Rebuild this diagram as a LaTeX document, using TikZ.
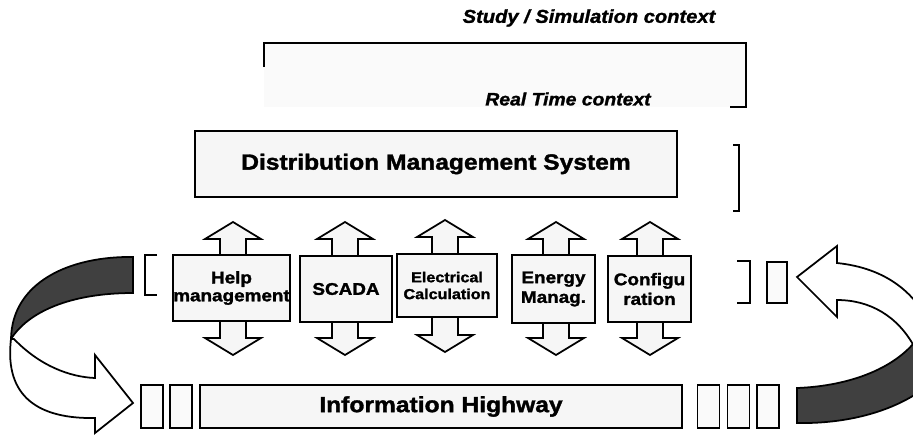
\documentclass[tikz,border=0pt]{standalone}
\usepackage{fontspec}
\setmainfont{Liberation Sans}[BoldFeatures={FakeStretch=1.12,FakeBold=1.6},BoldItalicFeatures={FakeStretch=1.08,FakeBold=1.4}]
\usetikzlibrary{positioning}
\tikzset{ctx/.style={font=\fontsize{10.6}{12}\selectfont\bfseries\itshape}}
\tikzset{bigbox/.style={draw,fill=gray!7,inner sep=0pt,font=\fontsize{12.5}{14}\selectfont\bfseries}}
\tikzset{modbox/.style={draw,fill=gray!7,inner sep=0pt,align=center,font=\fontsize{9.6}{11.2}\selectfont\bfseries}}
\tikzset{slot/.style={draw,fill=gray!4,inner sep=0pt,minimum width=0.44cm,minimum height=0.86cm}}
\tikzset{back/.style={fill=black!75,draw=black}}

\begin{document}
\begin{tikzpicture}[x=0.02cm,y=-0.02cm,line width=1pt]
    \useasboundingbox (0,0) rectangle (913,434);
    % contexts
    \fill[gray!4] (264,43) rectangle (746,107);
    \draw (264,67)--(264,43)--(746,43)--(746,107)--(730,107);
    \node[ctx] (study) at (589,18) {Study / Simulation context};
    \node[ctx,font=\fontsize{10.2}{12}\selectfont\bfseries\itshape] (rt) at (568,99) {Real Time context};
    \node[bigbox,minimum width=9.64cm,minimum height=1.32cm] (dms) at (436,164) {Distribution Management System};
    \draw (733,145)--(739,145)--(739,211)--(733,211);
    % double arrows behind the modules
    \foreach \cx/\yt/\yb in {233/222/355,345/222/355,445/220/352,556/222/355,650/222/355}
      \draw[fill=gray!7] (\cx,\yt)--(\cx+28,\yt+17)--(\cx+13,\yt+17)--(\cx+13,\yb-17)--(\cx+28,\yb-17)
        --(\cx,\yb)--(\cx-28,\yb-17)--(\cx-13,\yb-17)--(\cx-13,\yt+17)--(\cx-28,\yt+17)--cycle;
    \node[modbox,minimum width=2.3cm,minimum height=1.32cm] (help) at (231.5,288) {Help\\[-1pt]management};
    \node[modbox,minimum width=1.84cm,minimum height=1.32cm] (scada) at (346,289) {SCADA};
    \node[modbox,minimum width=2.0cm,minimum height=1.26cm,font=\fontsize{8.2}{9.6}\selectfont\bfseries] (elec) at (447,285.5) {Electrical\\Calculation};
    \node[modbox,minimum width=1.66cm,minimum height=1.36cm] (energy) at (553.5,289) {Energy\\Manag.};
    \node[modbox,minimum width=1.66cm,minimum height=1.32cm] (config) at (649.5,289) {Configu\\ration};
    \draw (157,255)--(145,255)--(145,295)--(157,295);
    \draw (737,261)--(750,261)--(750,303)--(737,303);
    \node[slot,minimum width=0.4cm,minimum height=0.82cm] (r0) at (777,282.5) {};
    % bus
    \node[slot] (l1) at (152,406.5) {};
    \node[slot] (l2) at (181,406.5) {};
    \node[bigbox,minimum width=9.64cm,minimum height=0.86cm] (ih) at (441,406.5) {Information Highway};
    \node[slot] (r1) at (708.5,406.5) {};
    \node[slot] (r2) at (738.5,406.5) {};
    \node[slot] (r3) at (768,406.5) {};
    % curved arrows
    \begin{scope}
      \clip (0,0) rectangle (913,434);
      \draw[back] (133,257) .. controls (70,256) and (12,282) .. (11,339)
        .. controls (28,312) and (70,293) .. (133,293) -- cycle;
      \draw[fill=white] (14,339) .. controls (40,366) and (70,377) .. (95,378) -- (95,355) -- (133,403)
        -- (95,433) -- (95,418) .. controls (40,419) and (4,398) .. (11,339) -- cycle;
      \draw[fill=white] (837,263) .. controls (885,268) and (918,292) .. (935,335) -- (915,348)
        .. controls (898,316) and (870,300) .. (837,300) -- (837,317) -- (797,277) -- (837,246) -- cycle;
      \draw[back] (797,388) .. controls (850,386) and (898,368) .. (920,335) -- (940,375)
        .. controls (905,410) and (850,424) .. (797,423) -- cycle;
    \end{scope}
\end{tikzpicture}
\end{document}
